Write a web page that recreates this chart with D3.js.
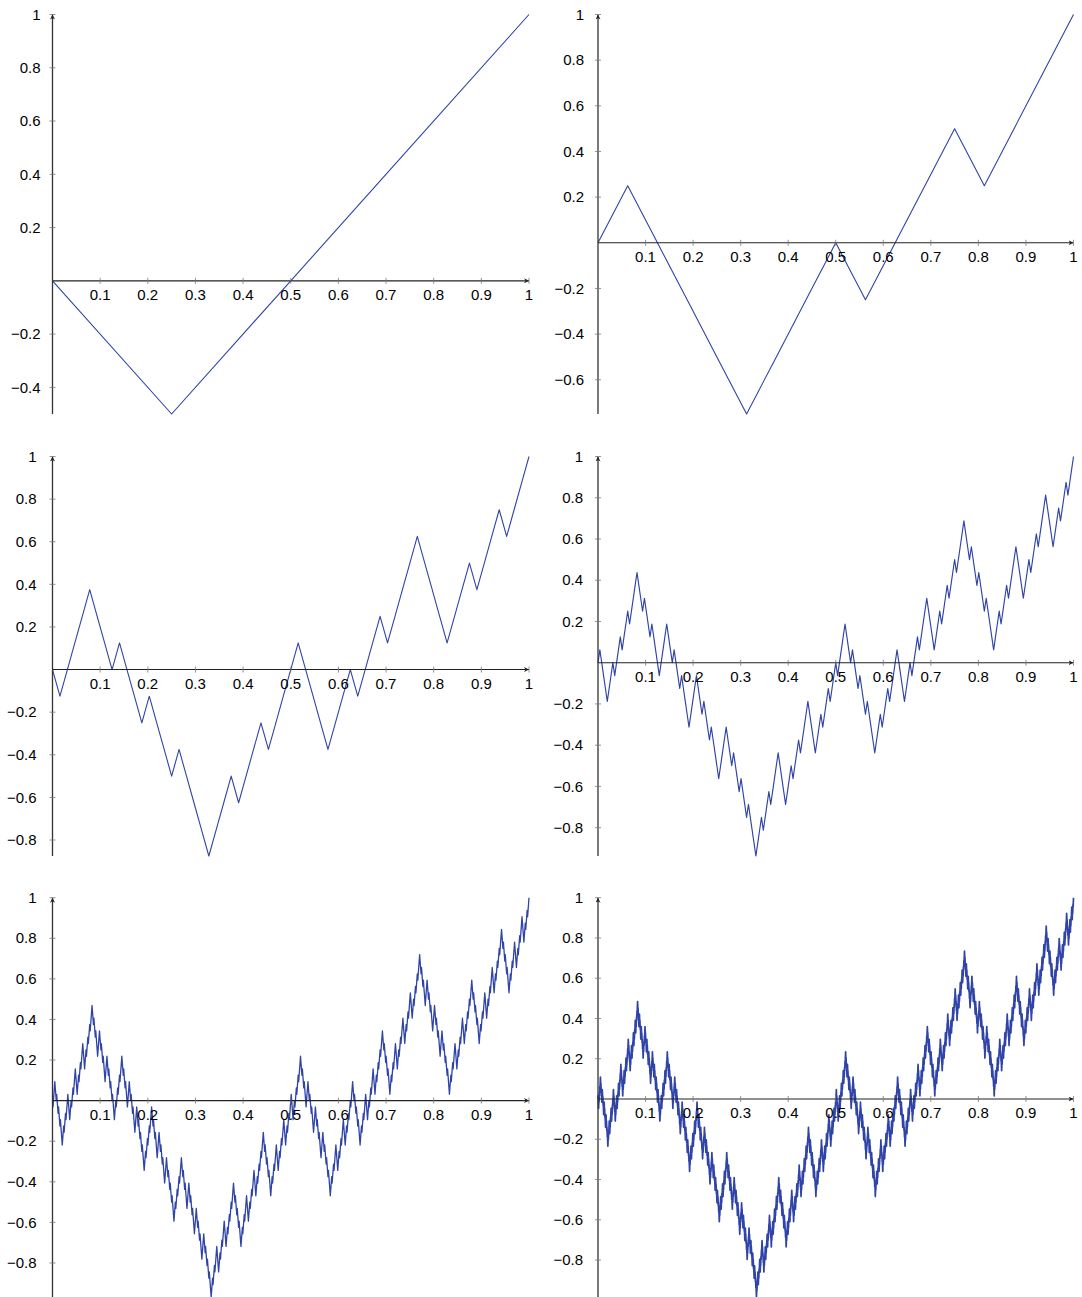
<!DOCTYPE html>
<html>
<head>
<meta charset="utf-8">
<script src="https://cdn.jsdelivr.net/npm/d3@7"></script>
<style>
  html, body { margin: 0; padding: 0; background: #fff; }
  svg { display: block; }
  text { font-family: "Liberation Sans", Arial, Helvetica, sans-serif; font-size: 15px; fill: #000; }
</style>
</head>
<body>
<svg id="chart" width="1082" height="1297"></svg>
<script>
// Generator of the self-affine curve: every segment is split into four equal
// parts in x, with the rise distributed as -1/2, +1/2, +1/2, +1/2 of the total.
const motifX = [0, 0.25, 0.5, 0.75, 1];
const motifY = [0, -0.5, 0, 0.5, 1];

// Iteration depth shown in each panel (row-major order).
const panelLevels = [1, 2, 3, 4, 5, 6];

// Tick values and labels.
const xTicks = [0.1, 0.2, 0.3, 0.4, 0.5, 0.6, 0.7, 0.8, 0.9, 1];
const xTickLabels = ["0.1", "0.2", "0.3", "0.4", "0.5", "0.6", "0.7", "0.8", "0.9", "1"];
const yTicks = [-0.8, -0.6, -0.4, -0.2, 0.2, 0.4, 0.6, 0.8, 1];

const colLeft = [52.5, 598];
const colRight = [529, 1073.5];
const rowTop = [14.5, 456.5, 897.7];
const panelH = 399.5;
const labelGap = [12, 14, 16, 15, 16, 15];
const strokeW = [1.1, 1.1, 1.1, 1.15, 1.3, 1.7];
const lineColor = "#2f44a6";

// Apply the generator `level` times starting from the segment (0,0)-(1,1).
function buildCurve(level) {
  let pts = [[0, 0], [1, 1]];
  for (let k = 0; k < level; k++) {
    const next = [pts[0]];
    for (let i = 0; i < pts.length - 1; i++) {
      const [x0, y0] = pts[i], [x1, y1] = pts[i + 1];
      for (let j = 1; j < motifX.length; j++) {
        next.push([x0 + motifX[j] * (x1 - x0), y0 + motifY[j] * (y1 - y0)]);
      }
    }
    pts = next;
  }
  return pts;
}

const fmtY = v => (v < 0 ? "\u2212" : "") + d3.format("~g")(Math.abs(v));

const svg = d3.select("#chart");
const defs = svg.append("defs");
defs.append("marker")
  .attr("id", "arrow")
  .attr("viewBox", "0 0 10 10")
  .attr("refX", 10).attr("refY", 5)
  .attr("markerWidth", 5).attr("markerHeight", 5)
  .attr("markerUnits", "userSpaceOnUse")
  .attr("orient", "auto")
  .append("path")
  .attr("d", "M0,0 L10,5 L0,10 L3,5 Z")
  .attr("fill", "#222");

panelLevels.forEach((level, idx) => {
  const col = idx % 2, row = Math.floor(idx / 2);
  const pts = buildCurve(level);
  const yMin = d3.min(pts, d => d[1]);
  const yMax = d3.max(pts, d => d[1]);

  const x = d3.scaleLinear().domain([0, 1]).range([colLeft[col], colRight[col]]);
  const y = d3.scaleLinear().domain([yMin, yMax]).range([rowTop[row] + panelH, rowTop[row]]);

  const g = svg.append("g");

  // curve
  g.append("path")
    .datum(pts)
    .attr("fill", "none")
    .attr("stroke", lineColor)
    .attr("stroke-width", strokeW[idx])
    .attr("stroke-linejoin", "round")
    .attr("d", d3.line().x(d => x(d[0])).y(d => y(d[1])));

  // x axis through y = 0, with ticks
  const y0 = y(0);
  g.append("line")
    .attr("x1", x(0)).attr("x2", x(1))
    .attr("y1", y0).attr("y2", y0)
    .attr("stroke", "#222").attr("stroke-width", 1.1)
    .attr("marker-end", "url(#arrow)");
  g.selectAll(".xt").data(xTicks).enter().append("line")
    .attr("x1", d => x(d)).attr("x2", d => x(d))
    .attr("y1", y0 - 3).attr("y2", y0 + 3)
    .attr("stroke", "#777").attr("stroke-width", 0.8);
  g.selectAll(".xl").data(xTicks).enter().append("text")
    .attr("x", d => x(d)).attr("y", y0 + 19)
    .attr("text-anchor", "middle")
    .text((d, i) => xTickLabels[i]);

  // y axis through x = 0, with ticks
  const x0 = x(0);
  g.append("line")
    .attr("x1", x0).attr("x2", x0)
    .attr("y1", y(yMin)).attr("y2", y(yMax))
    .attr("stroke", "#333").attr("stroke-width", 1.3)
    .attr("marker-end", "url(#arrow)");
  const yt = yTicks.filter(v => v >= yMin - 1e-9 && v <= yMax + 1e-9);
  g.selectAll(".yt").data(yt).enter().append("line")
    .attr("x1", x0 - 3).attr("x2", x0 + 3)
    .attr("y1", d => y(d)).attr("y2", d => y(d))
    .attr("stroke", "#777").attr("stroke-width", 0.8);
  g.selectAll(".yl").data(yt).enter().append("text")
    .attr("x", x0 - labelGap[idx]).attr("y", d => y(d) + 5.2)
    .attr("text-anchor", "end")
    .text(d => fmtY(d));
});
</script>
</body>
</html>
